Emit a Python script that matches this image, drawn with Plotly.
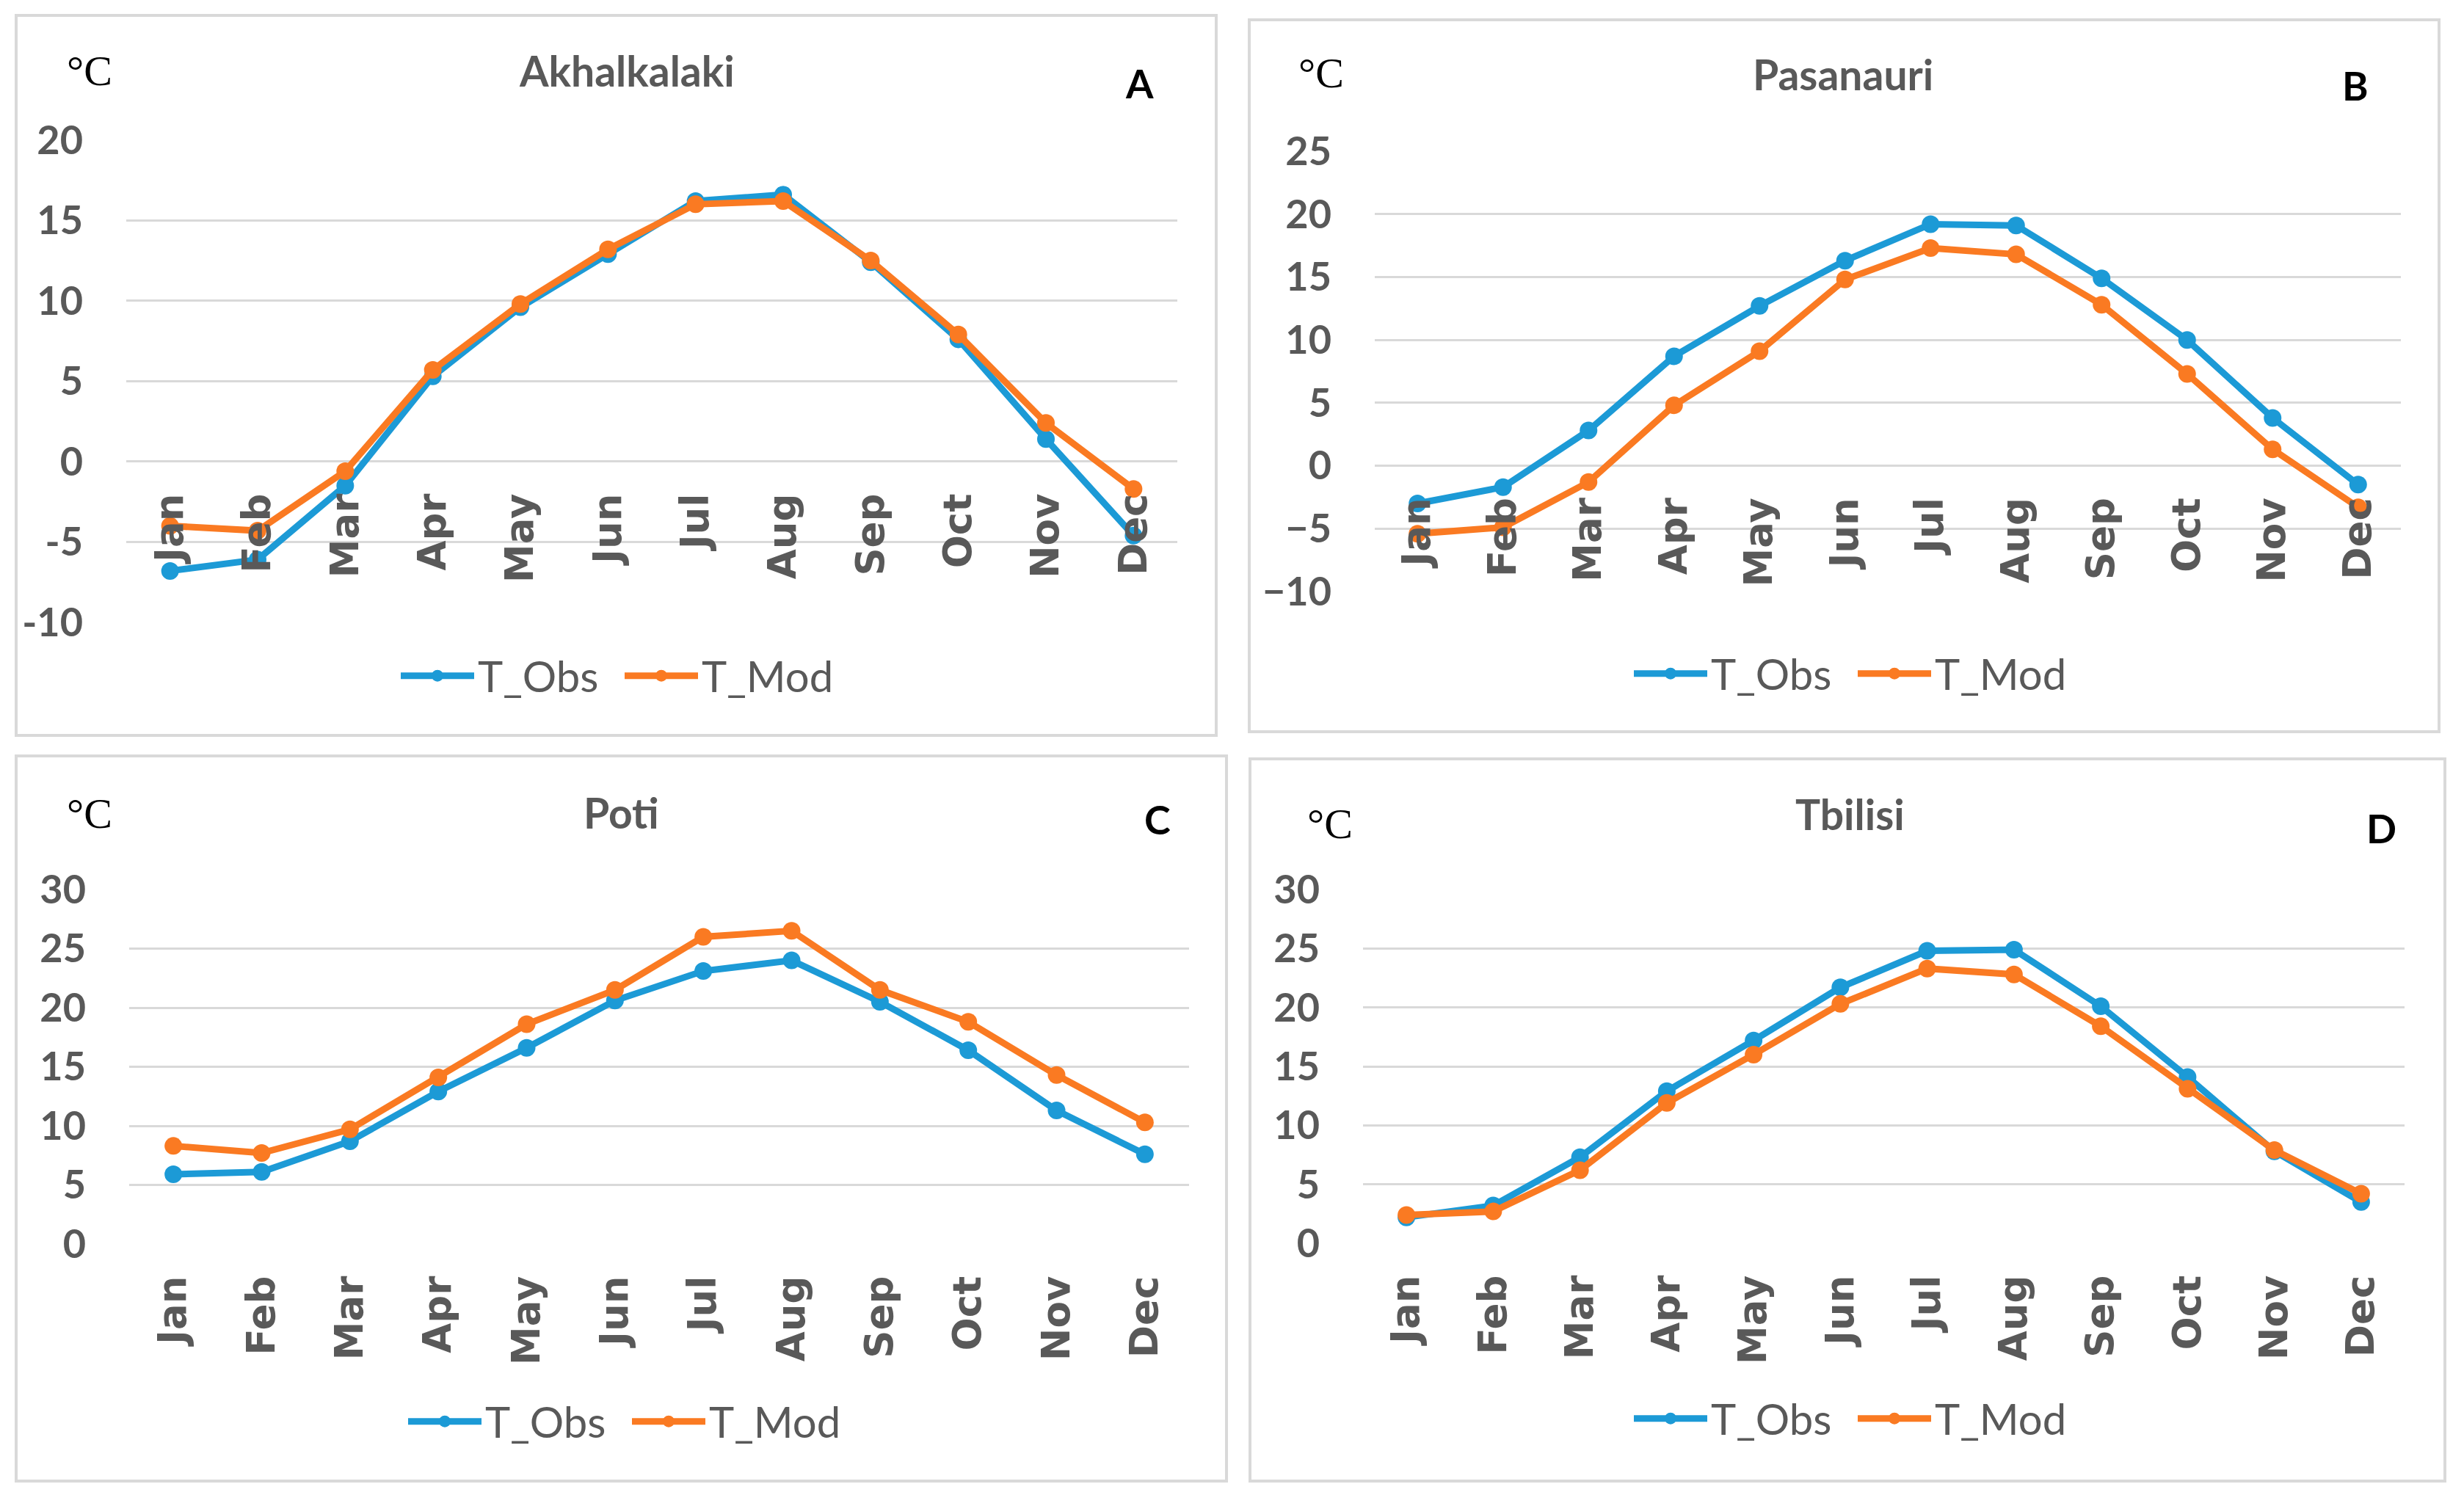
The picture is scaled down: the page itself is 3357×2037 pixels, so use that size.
import plotly.graph_objects as go

# ---------------- data ----------------
months = ["Jan", "Feb", "Mar", "Apr", "May", "Jun", "Jul", "Aug", "Sep", "Oct", "Nov", "Dec"]

akhalkalaki_obs = [-6.8, -6.1, -1.5, 5.3, 9.6, 12.9, 16.2, 16.6, 12.4, 7.6, 1.4, -4.6]
akhalkalaki_mod = [-4.0, -4.3, -0.6, 5.7, 9.8, 13.2, 16.0, 16.2, 12.5, 7.9, 2.4, -1.7]

pasanauri_obs = [-3.0, -1.7, 2.8, 8.7, 12.7, 16.3, 19.2, 19.1, 14.9, 10.0, 3.8, -1.5]
pasanauri_mod = [-5.4, -4.9, -1.3, 4.8, 9.1, 14.8, 17.3, 16.8, 12.8, 7.3, 1.3, -3.3]

poti_obs = [5.9, 6.1, 8.7, 12.9, 16.6, 20.6, 23.1, 24.0, 20.5, 16.4, 11.3, 7.6]
poti_mod = [8.3, 7.7, 9.7, 14.1, 18.6, 21.5, 26.0, 26.5, 21.5, 18.8, 14.3, 10.3]

tbilisi_obs = [2.2, 3.2, 7.3, 12.9, 17.2, 21.7, 24.8, 24.9, 20.1, 14.1, 7.8, 3.5]
tbilisi_mod = [2.4, 2.7, 6.2, 11.9, 16.0, 20.3, 23.3, 22.8, 18.4, 13.1, 7.9, 4.2]

titles = ["Akhalkalaki", "Pasanauri", "Poti", "Tbilisi"]
letters = ["A", "B", "C", "D"]
series_names = ["T_Obs", "T_Mod"]
unit_label = "°C"

ticks_a = [-10, -5, 0, 5, 10, 15, 20]
ticktext_a = ["-10", "-5", "0", "5", "10", "15", "20"]
ticks_b = [-10, -5, 0, 5, 10, 15, 20, 25]
ticktext_b = ["\u221210", "\u22125", "0", "5", "10", "15", "20", "25"]
ticks_cd = [0, 5, 10, 15, 20, 25, 30]
ticktext_cd = ["0", "5", "10", "15", "20", "25", "30"]

obs_data = [akhalkalaki_obs, pasanauri_obs, poti_obs, tbilisi_obs]
mod_data = [akhalkalaki_mod, pasanauri_mod, poti_mod, tbilisi_mod]
tick_vals = [ticks_a, ticks_b, ticks_cd, ticks_cd]
tick_text = [ticktext_a, ticktext_b, ticktext_cd, ticktext_cd]

# ---------------- layout geometry (pixels of the target picture) ----------------
W, H = 3357, 2037
OFF = 8  # page body margin of the html page
geom = [
    dict(plot_x=(172, 1604), plot_y=(190.7, 848), border=(22, 21, 1657, 1002),
         title=(854, 96), letter=(1552, 113), unit=(122, 97), legend=(846, 921), at_zero=True),
    dict(plot_x=(1873, 3271), plot_y=(206, 806), border=(1702, 27, 3323, 997),
         title=(2511, 101), letter=(3209, 116), unit=(1800, 100), legend=(2526, 918), at_zero=True),
    dict(plot_x=(176, 1620), plot_y=(1212, 1695), border=(22, 1030, 1671, 2018),
         title=(846, 1107), letter=(1577, 1116), unit=(122, 1108), legend=(856, 1937), at_zero=False),
    dict(plot_x=(1857, 3276), plot_y=(1212, 1694), border=(1703, 1034, 3331, 2018),
         title=(2520, 1109), letter=(3244, 1128), unit=(1812, 1122), legend=(2526, 1933), at_zero=False),
]

BLUE = "#1C9AD6"
ORANGE = "#FA7A22"
GRAY_TXT = "#595959"
GRID = "#D9D9D9"


def px_x(v):
    return (v - OFF) / W


def px_y(v):
    return 1 - (v - OFF) / H


fig = go.Figure()
shapes = []
annotations = []
layout_axes = {}

for i in range(4):
    g = geom[i]
    n = "" if i == 0 else str(i + 1)
    xa, ya = "x" + n, "y" + n
    leg = "legend" + n
    vals = tick_vals[i]
    ymin, ymax = vals[0], vals[-1]

    for name, data, col in [(series_names[0], obs_data[i], BLUE), (series_names[1], mod_data[i], ORANGE)]:
        fig.add_trace(go.Scatter(
            x=months, y=data, name=name, mode="lines+markers",
            line=dict(color=col, width=9), marker=dict(color=col, size=24),
            xaxis=xa, yaxis=ya, legend=leg, showlegend=True,
        ))

    xd = [px_x(g["plot_x"][0]), px_x(g["plot_x"][1])]
    yd = [px_y(g["plot_y"][1]), px_y(g["plot_y"][0])]

    xaxis = dict(domain=xd, range=[-0.5, 11.5], type="category",
                 categoryorder="array", categoryarray=months,
                 showgrid=False, zeroline=False, showline=False, ticks="",
                 tickangle=-90, automargin=False, ticklabelstandoff=32,
                 tickfont=dict(family="DejaVu Sans", size=53, color=GRAY_TXT, weight="bold"))
    if g["at_zero"]:
        frac = (0 - ymin) / (ymax - ymin)
        xaxis.update(anchor="free", position=yd[0] + frac * (yd[1] - yd[0]))
    else:
        xaxis.update(anchor=ya)
    yaxis = dict(domain=yd, range=[ymin, ymax], tickvals=vals, ticktext=tick_text[i],
                 showgrid=True, gridcolor=GRID, gridwidth=3, zeroline=False,
                 showline=False, ticks="", anchor=xa, automargin=False,
                 ticklabelstandoff=58,
                 tickfont=dict(family="Lato", size=54, color=GRAY_TXT, weight="bold"))
    layout_axes["xaxis" + n] = xaxis
    layout_axes["yaxis" + n] = yaxis

    layout_axes[leg] = dict(orientation="h", x=px_x(g["legend"][0]), y=px_y(g["legend"][1]),
                            xanchor="center", yanchor="middle", bgcolor="rgba(0,0,0,0)",
                            font=dict(family="Lato", size=58, color=GRAY_TXT),
                            itemwidth=100, tracegroupgap=0, entrywidth=190,
                            entrywidthmode="pixels")

    b = g["border"]
    shapes.append(dict(type="rect", xref="paper", yref="paper",
                       x0=px_x(b[0]), x1=px_x(b[2]), y0=px_y(b[3]), y1=px_y(b[1]),
                       line=dict(color=GRID, width=4), fillcolor="rgba(0,0,0,0)", layer="below"))

    annotations.append(dict(text=titles[i], xref="paper", yref="paper",
                            x=px_x(g["title"][0]), y=px_y(g["title"][1]),
                            xanchor="center", yanchor="middle", showarrow=False,
                            font=dict(family="Lato", size=57, color=GRAY_TXT, weight="bold")))
    annotations.append(dict(text=letters[i], xref="paper", yref="paper",
                            x=px_x(g["letter"][0]), y=px_y(g["letter"][1]),
                            xanchor="center", yanchor="middle", showarrow=False,
                            font=dict(family="Lato", size=54, color="#000000", weight="bold")))
    annotations.append(dict(text=unit_label, xref="paper", yref="paper",
                            x=px_x(g["unit"][0]), y=px_y(g["unit"][1]),
                            xanchor="center", yanchor="middle", showarrow=False,
                            font=dict(family="Liberation Serif", size=58, color="#000000")))

fig.update_layout(
    width=W, height=H,
    margin=dict(l=0, r=0, t=0, b=0),
    paper_bgcolor="white", plot_bgcolor="white",
    shapes=shapes, annotations=annotations,
    **layout_axes,
)

fig.write_html("out.html")
